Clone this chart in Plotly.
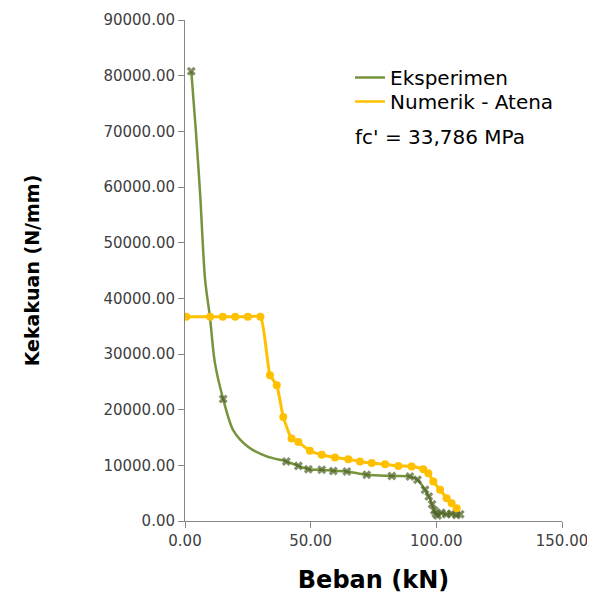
import plotly.graph_objects as go

# Eksperimen (experimental) data: load (kN) vs stiffness (N/mm)
eks_beban = [2.5, 4.3, 6.0, 8.0, 9.9, 11.9, 15.2, 19.2, 25.2, 32.5, 40.3, 45.1, 49.1,
             54.4, 59.0, 64.4, 72.3, 82.3, 89.5, 92.5, 95.5, 97.0, 98.3, 99.2, 99.8,
             100.5, 102.0, 104.0, 106.0, 108.0, 109.5]
eks_kekakuan = [80800, 70200, 58900, 43300, 36700, 28400, 21900, 16300, 13300, 11600,
                10700, 9900, 9300, 9200, 9000, 8900, 8300, 8100, 8000, 7400, 5600, 4400,
                3000, 1900, 1300, 1000, 1500, 1200, 1300, 1100, 1200]
eks_marked = [1, 0, 0, 0, 0, 0, 1, 0, 0, 0, 1, 1, 1, 1, 1, 1, 1, 1, 1, 1, 1, 1, 1, 1, 1,
              1, 1, 1, 1, 1, 1]

# Numerik - Atena data
num_beban = [0.5, 10.0, 15.0, 20.0, 25.0, 30.0, 33.8, 36.5, 39.1, 42.4, 45.1, 49.7,
             54.4, 59.7, 65.0, 69.6, 74.3, 79.6, 84.9, 90.2, 94.8, 96.8, 98.8, 101.5,
             104.1, 106.1, 108.1]
num_kekakuan = [36700, 36700, 36700, 36700, 36700, 36700, 26200, 24400, 18700, 14800,
                14200, 12600, 11900, 11400, 11100, 10700, 10400, 10200, 9900, 9800,
                9300, 8600, 7100, 5600, 4100, 3200, 2300]

x_ticks = [0, 50, 100, 150]
y_ticks = [0, 10000, 20000, 30000, 40000, 50000, 60000, 70000, 80000, 90000]

GREEN_LINE = "#77933C"
GREEN_MARK = "#4F6228"
YELLOW = "#FFC000"
FONT = "DejaVu Sans"

fig = go.Figure()

fig.add_trace(go.Scatter(
    x=eks_beban, y=eks_kekakuan, mode="lines+markers",
    line=dict(color=GREEN_LINE, width=2.5, shape="spline", smoothing=0.8),
    marker=dict(symbol="x", size=[8 if m else 0 for m in eks_marked],
                color=GREEN_MARK, line=dict(width=0)),
    showlegend=False))

fig.add_trace(go.Scatter(
    x=num_beban, y=num_kekakuan, mode="lines+markers",
    line=dict(color=YELLOW, width=3, shape="spline", smoothing=0.5),
    marker=dict(symbol="circle", size=8, color=YELLOW),
    showlegend=False))

# legend-only entries (lines only), one legend box per row
fig.add_trace(go.Scatter(x=[None], y=[None], mode="lines", name="Eksperimen",
                         line=dict(color=GREEN_LINE, width=2.5), legend="legend"))
fig.add_trace(go.Scatter(x=[None], y=[None], mode="lines", name="Numerik - Atena",
                         line=dict(color=YELLOW, width=2.5), legend="legend2"))

axis_common = dict(showgrid=False, zeroline=False, showline=True,
                   linecolor="#868686", linewidth=1, ticks="outside",
                   tickcolor="#868686", ticklen=6, automargin=False,
                   tickfont=dict(family=FONT, size=15, color="#404040"))

fig.update_xaxes(range=[0, 150], tickvals=x_ticks,
                 ticktext=[f"{v:.2f}" for v in x_ticks],
                 title=dict(text="<b>Beban (kN)</b>",
                            font=dict(family=FONT, size=24, color="#000000"),
                            standoff=22),
                 **axis_common)
fig.update_yaxes(range=[0, 90000], tickvals=y_ticks,
                 ticktext=[f"{v:.2f}" for v in y_ticks],
                 title=dict(text="<b>Kekakuan (N/mm)</b>",
                            font=dict(family=FONT, size=19, color="#000000"),
                            standoff=58),
                 **axis_common)

fig.add_annotation(x=(353 - 185) / 377, y=(521 - 137) / 501, xref="paper", yref="paper",
                   text="fc' = 33,786 MPa", showarrow=False, xanchor="left",
                   yanchor="middle", font=dict(family=FONT, size=20, color="#000000"))

legend_common = dict(xanchor="left", yanchor="top",
                     font=dict(family=FONT, size=20, color="#000000"),
                     bgcolor="rgba(0,0,0,0)", itemwidth=30)

fig.update_layout(
    width=595, height=596,
    margin=dict(l=177, r=41, t=12, b=83),
    paper_bgcolor="white", plot_bgcolor="white",
    legend=dict(x=(350 - 185) / 377, y=(521 - 58) / 501, **legend_common),
    legend2=dict(x=(350 - 185) / 377, y=(521 - 82) / 501, **legend_common),
)

fig.write_html("out.html")
